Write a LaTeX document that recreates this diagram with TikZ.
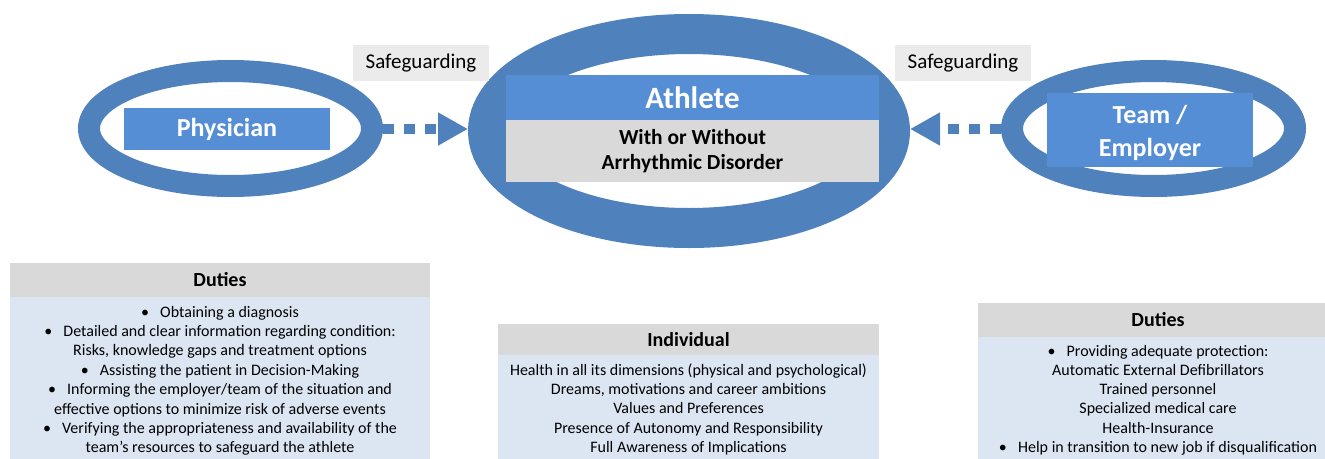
\documentclass[tikz,border=0pt]{standalone}
\usepackage{fontspec}
\setmainfont{Carlito}
\usetikzlibrary{shapes.geometric,arrows.meta}
\definecolor{ringblue}{HTML}{4F81BD}
\definecolor{boxblue}{HTML}{558ED5}
\definecolor{headgray}{HTML}{D9D9D9}
\definecolor{bodyblue}{HTML}{DCE6F2}
\definecolor{labelgray}{HTML}{EBEBEB}
\definecolor{midgray}{HTML}{D9D9D9}
\tikzset{
  ring/.style={ellipse, draw=ringblue, inner sep=0pt},
  bluebox/.style={fill=boxblue, inner sep=0pt, text=white, font=\bfseries\fontsize{26}{33}\selectfont, align=center},
  whitetxt/.style={inner sep=0pt, text=white, font=\bfseries\fontsize{26}{33}\selectfont, align=center},
  safebox/.style={fill=labelgray, inner sep=0pt, minimum width=136pt, minimum height=36pt, font=\fontsize{21}{25}\selectfont},
  flowarrow/.style={draw=ringblue, line width=10pt, dash pattern=on 11pt off 10pt, -{Triangle[length=30pt,width=31pt,fill=ringblue]}},
  headbox/.style={fill=headgray, inner sep=0pt, font=\bfseries\fontsize{20}{24}\selectfont},
  bodybox/.style={fill=bodyblue, inner sep=0pt},
  bodytxt/.style={anchor=base, inner sep=0pt, font=\fontsize{16}{19}\selectfont},
}
\newcommand{\bul}{\textbullet\hspace{0.7em}}
\begin{document}
\begin{tikzpicture}[x=1pt,y=-1pt]
\clip (0,0) rectangle (1325,458);
\fill[white] (0,0) rectangle (1325,458);

% ellipses
\node[ring, line width=22pt, minimum width=283pt, minimum height=115pt] (phys) at (230.5,128.5) {};
\node[ring, line width=40pt, minimum width=402pt, minimum height=194pt] (ath) at (689,131) {};
\node[ring, line width=22pt, minimum width=283pt, minimum height=115pt] (team) at (1153.5,128.5) {};

% boxes inside
\node[bluebox, minimum width=206pt, minimum height=42pt] (physbox) at (227,129) {Physician};
\node[bluebox, minimum width=373pt, minimum height=45pt, font=\bfseries\fontsize{31}{36}\selectfont] (athbox) at (692.5,97.5) {Athlete};
\node[fill=midgray, inner sep=0pt, minimum width=373pt, minimum height=62pt, align=center, font=\bfseries\fontsize{21.5}{25}\selectfont] (athsub) at (692.5,151) {With or Without\\Arrhythmic Disorder};
\node[bluebox, minimum width=206pt, minimum height=74pt] (teambox) at (1150,130) {};
\node[whitetxt] (teamtxt) at (1150,133) {Team /\\Employer};

% safeguarding labels
\node[safebox] (safeL) at (421,63) {Safeguarding};
\node[safebox] (safeR) at (963,63) {Safeguarding};

% arrows
\draw[flowarrow] (phys.east |- 0,129) -- (ath.west |- 0,129);
\draw[flowarrow] (team.west |- 0,129) -- (ath.east |- 0,129);

% left duties
\node[headbox, minimum width=420pt, minimum height=34pt] (dutL) at (220,280) {Duties};
\node[bodybox, anchor=north, minimum width=420pt, minimum height=170pt] (dutLb) at (220,297) {};
\foreach \t [count=\i] in {{\bul Obtaining a diagnosis},
  {\bul Detailed and clear information regarding condition:},
  {Risks, knowledge gaps and treatment options},
  {\bul Assisting the patient in Decision-Making},
  {\bul Informing the employer/team of the situation and},
  {effective options to minimize risk of adverse events},
  {\bul Verifying the appropriateness and availability of the},
  {team’s resources to safeguard the athlete}}
  \node[bodytxt] (pl\i) at (220,{317+19.4*(\i-1)}) {\t};

% middle individual
\node[headbox, minimum width=381pt, minimum height=31pt] (indH) at (688.5,339.5) {Individual};
\node[bodybox, anchor=north, minimum width=381pt, minimum height=110pt] (indB) at (688.5,355) {};
\foreach \t [count=\i] in {{Health in all its dimensions (physical and psychological)},
  {Dreams, motivations and career ambitions},
  {Values and Preferences},
  {Presence of Autonomy and Responsibility},
  {Full Awareness of Implications}}
  \node[bodytxt] (il\i) at (688.5,{375+19.4*(\i-1)}) {\t};

% right duties
\node[headbox, minimum width=360pt, minimum height=34pt] (dutR) at (1158,320) {Duties};
\node[bodybox, anchor=north, minimum width=360pt, minimum height=130pt] (dutRb) at (1158,337) {};
\foreach \t [count=\i] in {{\bul Providing adequate protection:},
  {Automatic External Defibrillators},
  {Trained personnel},
  {Specialized medical care},
  {Health-Insurance},
  {\bul Help in transition to new job if disqualification}}
  \node[bodytxt] (tl\i) at (1158,{356+19.3*(\i-1)}) {\t};
\end{tikzpicture}
\end{document}
